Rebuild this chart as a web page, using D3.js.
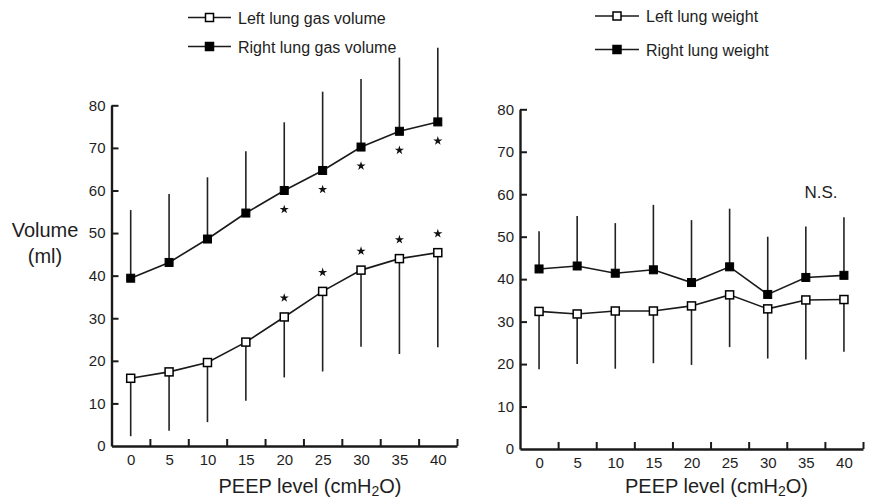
<!DOCTYPE html>
<html><head><meta charset="utf-8">
<script src="https://cdn.jsdelivr.net/npm/d3@7"></script>
<style>
body{margin:0;background:#fff;}
text{font-family:"Liberation Sans",Arial,Helvetica,sans-serif;fill:#1e1e1e;}
</style></head>
<body>
<svg id="c" width="871" height="499"></svg>
<script>
const peep = [0,5,10,15,20,25,30,35,40];
const yTicks = [0,10,20,30,40,50,60,70,80];
// Left panel: gas volume (ml)
const rightVol   = [39.4,43.1,48.6,54.7,60.0,64.7,70.2,73.9,76.1];
const rightVolSD = [16.0,16.1,14.5,14.5,16.0,18.5,16.0,17.3,17.4];
const leftVol    = [15.9,17.4,19.6,24.4,30.3,36.3,41.3,44.0,45.4];
const leftVolSD  = [13.6,13.8,14.0,13.8,14.2,18.8,18.0,22.4,22.2];
const sigVol     = [0,0,0,0,1,1,1,1,1];
// Right panel: lung weight
const rightWt    = [42.4,43.1,41.4,42.2,39.2,42.9,36.4,40.4,40.9];
const rightWtSD  = [8.9,11.8,11.8,15.3,14.7,13.7,13.6,12.0,13.7];
const leftWt     = [32.4,31.8,32.5,32.5,33.7,36.3,33.0,35.1,35.2];
const leftWtSD   = [13.6,11.8,13.6,12.3,13.9,12.3,11.7,14.0,12.3];

const svg = d3.select("#c");
const ink = "#1a1a1a";

function panel(cfg){
  const x = d3.scaleLinear().domain([-2.5,42.5]).range([cfg.x0, cfg.x1]);
  const y = d3.scaleLinear().domain([0,80]).range([cfg.yb, cfg.yt]);
  const g = svg.append("g");

  // x axis labels
  const xa = g.append("g").attr("transform",`translate(0,${cfg.yb})`)
    .call(d3.axisBottom(x).tickValues(peep).tickSize(0).tickPadding(8).tickSizeOuter(0));
  xa.select(".domain").remove();
  xa.selectAll("text").attr("font-size",15).style("font-family","Liberation Sans, Arial").attr("fill","#1e1e1e");
  // x axis inward ticks
  const xt = g.append("g").attr("transform",`translate(0,${cfg.yb})`)
    .call(d3.axisTop(x).tickValues(peep.map(d=>d+2.5)).tickFormat("").tickSize(7).tickSizeOuter(0));
  xt.selectAll("line").attr("stroke",ink).attr("stroke-width",2);
  xt.select(".domain").attr("stroke",ink).attr("stroke-width",2.4);

  // y axis
  const ya = g.append("g").attr("transform",`translate(${cfg.x0},0)`)
    .call(d3.axisLeft(y).tickValues(yTicks).tickSize(-7).tickPadding(6).tickSizeOuter(0));
  ya.select(".domain").attr("stroke",ink).attr("stroke-width",2.4);
  ya.selectAll("line").attr("stroke",ink).attr("stroke-width",2);
  ya.selectAll("text").attr("font-size",15).style("font-family","Liberation Sans, Arial").attr("fill","#1e1e1e");
  ya.selectAll(".tick").filter(d=>d===0).select("line").remove();

  // error bars
  const eb = g.append("g").attr("stroke","#222").attr("stroke-width",1.6);
  eb.selectAll(".up").data(peep).join("line")
    .attr("x1",(d)=>x(d)).attr("x2",(d)=>x(d))
    .attr("y1",(d,i)=>y(cfg.fill[i])).attr("y2",(d,i)=>y(cfg.fill[i]+cfg.fillSD[i]));
  eb.selectAll(".dn").data(peep).join("line")
    .attr("x1",(d)=>x(d)).attr("x2",(d)=>x(d))
    .attr("y1",(d,i)=>y(cfg.open[i])).attr("y2",(d,i)=>y(cfg.open[i]-cfg.openSD[i]));

  // lines
  const line = (arr)=>d3.line().x((d,i)=>x(peep[i])).y(d=>y(d))(arr);
  g.append("path").attr("d",line(cfg.fill)).attr("fill","none").attr("stroke",ink).attr("stroke-width",1.6);
  g.append("path").attr("d",line(cfg.open)).attr("fill","none").attr("stroke",ink).attr("stroke-width",1.6);

  // markers
  const s = 8;
  g.selectAll(".mf").data(cfg.fill).join("rect")
    .attr("x",(d,i)=>x(peep[i])-s/2).attr("y",d=>y(d)-s/2).attr("width",s).attr("height",s)
    .attr("fill","#000").attr("stroke","#000").attr("stroke-width",1);
  g.selectAll(".mo").data(cfg.open).join("rect")
    .attr("x",(d,i)=>x(peep[i])-s/2).attr("y",d=>y(d)-s/2).attr("width",s).attr("height",s)
    .attr("fill","#fff").attr("stroke","#000").attr("stroke-width",1.5);

  // significance stars
  if(cfg.sig){
    const star = d3.symbol().type(d3.symbolStar).size(26);
    cfg.sig.forEach((f,i)=>{
      if(!f) return;
      g.append("path").attr("d",star()).attr("fill","#111")
        .attr("transform",`translate(${x(peep[i])},${y(cfg.fill[i])+19})`);
      g.append("path").attr("d",star()).attr("fill","#111")
        .attr("transform",`translate(${x(peep[i])},${y(cfg.open[i])-19})`);
    });
  }

  // x title
  const t = g.append("text").attr("x",cfg.titleX).attr("y",493).attr("text-anchor","middle").attr("font-size",20);
  t.append("tspan").text("PEEP level (cmH");
  t.append("tspan").attr("font-size",14).attr("dy",3).text("2");
  t.append("tspan").attr("dy",-3).text("O)");

  // legend
  const L = cfg.leg;
  cfg.legLabels.forEach((lab,k)=>{
    const ly = L.ys[k];
    g.append("line").attr("x1",L.x0).attr("x2",L.x1).attr("y1",ly).attr("y2",ly).attr("stroke",ink).attr("stroke-width",1.6);
    g.append("rect").attr("x",(L.x0+L.x1)/2-4).attr("y",ly-4).attr("width",8).attr("height",8)
      .attr("fill",k===0?"#fff":"#000").attr("stroke","#000").attr("stroke-width",1.5);
    g.append("text").attr("x",L.x1+7).attr("y",ly+6).attr("font-size",16).text(lab);
  });
  return {x,y,g};
}

panel({x0:111.5,x1:457,yb:446,yt:105.3,
  fill:rightVol, fillSD:rightVolSD, open:leftVol, openSD:leftVolSD, sig:sigVol,
  titleX:310,
  leg:{x0:188,x1:231,ys:[17.5,46.5]},
  legLabels:["Left lung gas volume","Right lung gas volume"]});

const p2 = panel({x0:520,x1:863,yb:449,yt:109.3,
  fill:rightWt, fillSD:rightWtSD, open:leftWt, openSD:leftWtSD, sig:null,
  titleX:716.5,
  leg:{x0:595,x1:639,ys:[16,49.5]},
  legLabels:["Left lung weight","Right lung weight"]});

p2.g.append("text").attr("x",821).attr("y",197.5).attr("text-anchor","middle").attr("font-size",17).text("N.S.");

// y title
const yt = svg.append("text").attr("text-anchor","middle").attr("font-size",20);
yt.append("tspan").attr("x",45).attr("y",237).text("Volume");
yt.append("tspan").attr("x",45).attr("y",263).text("(ml)");
</script>
</body></html>
